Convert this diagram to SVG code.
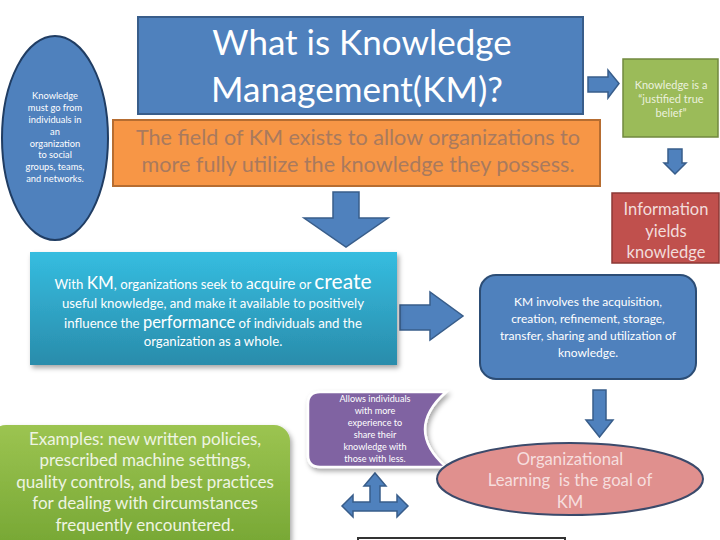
<svg xmlns="http://www.w3.org/2000/svg" width="720" height="540" viewBox="0 0 720 540">
<defs>
<style>
text{font-family:Lato,"Open Sans","Liberation Sans",sans-serif;text-anchor:middle}
.arrow{fill:#4f81bd;stroke:#385d8a;stroke-width:1.5}
.w{fill:#ffffff}
</style>
<linearGradient id="teal" x1="0" y1="0" x2="0" y2="1">
<stop offset="0" stop-color="#35bde0"/>
<stop offset="1" stop-color="#2a8cab"/>
</linearGradient>
<linearGradient id="grn" x1="0" y1="0" x2="0" y2="1">
<stop offset="0" stop-color="#9cc451"/>
<stop offset="1" stop-color="#74a532"/>
</linearGradient>
<filter id="sh" x="-10%" y="-10%" width="125%" height="130%">
<feDropShadow dx="2" dy="3" stdDeviation="2.5" flood-color="#000" flood-opacity="0.35"/>
</filter>
</defs>
<rect width="720" height="540" fill="#ffffff"/>

<g id="connectors">
<polygon class="arrow" points="333,192 359,192 359,218 388,218 346,247 304,218 333,218"/>
<polygon class="arrow" points="588,77 608,77 608,70 619,83.5 608,98 608,92 588,92"/>
<polygon class="arrow" points="668,149 682,149 682,163 686,163 675,174 664,163 668,163"/>
<polygon class="arrow" points="400,305 430,305 430,292 463,316 430,340 430,330 400,330"/>
<polygon class="arrow" points="593,390 606,390 606,420 613,420 599.5,437 586,420 593,420"/>
<polygon class="arrow" points="375,473 386,486 380,486 380,502 397,502 397,495 408,506 397,517 397,511 353,511 353,517 342,506 353,495 353,502 370,502 370,486 364,486"/>
</g>

<g id="title">
<rect x="138" y="17" width="445" height="97" fill="#4f81bd" stroke="#385d8a" stroke-width="2"/>
<text class="w" x="362" y="55" font-size="35">What is Knowledge</text>
<text class="w" x="357" y="102" font-size="35">Management(KM)?</text>
</g>

<g id="field">
<rect x="113" y="120" width="487" height="66" fill="#f79646" stroke="#b66d31" stroke-width="2"/>
<text x="358" y="145" font-size="21.6" fill="#a97a5e">The field of KM exists to allow organizations to</text>
<text x="358" y="172" font-size="21.6" fill="#a97a5e">more fully utilize the knowledge they possess.</text>
</g>

<g id="oval-left">
<ellipse cx="55" cy="138" rx="53" ry="102" fill="#4f81bd" stroke="#203d63" stroke-width="2"/>
<g class="w" font-size="9.3">
<text x="55" y="99">Knowledge</text>
<text x="55" y="111">must go from</text>
<text x="55" y="123">individuals in</text>
<text x="55" y="135">an</text>
<text x="55" y="147">organization</text>
<text x="55" y="158">to social</text>
<text x="55" y="170">groups, teams,</text>
<text x="55" y="182">and networks.</text>
</g>
</g>

<g id="justified">
<rect x="623" y="59" width="95" height="78" fill="#9bbb59" stroke="#71893f" stroke-width="1.5"/>
<g fill="#ebf1de" font-size="11">
<text x="671" y="89">Knowledge is a</text>
<text x="671" y="103">“justified true</text>
<text x="671" y="117">belief”</text>
</g>
</g>

<g id="information">
<rect x="612" y="193" width="107" height="70" fill="#c0504d" stroke="#8c3836" stroke-width="1.5"/>
<g fill="#f2dcdb" font-size="16.5">
<text x="666" y="215">Information</text>
<text x="666" y="237">yields</text>
<text x="666" y="258">knowledge</text>
</g>
</g>

<g id="with-km">
<rect x="30" y="252" width="367" height="113" fill="url(#teal)" filter="url(#sh)"/>
<g class="w" font-size="13.2">
<text x="213" y="289">With <tspan font-size="17">KM</tspan>, organizations seek to <tspan font-size="15.5">acquire</tspan> or <tspan font-size="21">create</tspan></text>
<text x="213" y="308">useful knowledge, and make it available to positively</text>
<text x="213" y="328">influence the <tspan font-size="16.5">performance</tspan> of individuals and the</text>
<text x="213" y="346">organization as a whole.</text>
</g>
</g>

<g id="km-involves">
<rect x="480" y="275" width="216" height="104" rx="16" fill="#4f81bd" stroke="#2c4d75" stroke-width="2"/>
<g class="w" font-size="12">
<text x="588" y="306">KM involves the acquisition,</text>
<text x="588" y="323">creation, refinement, storage,</text>
<text x="588" y="340">transfer, sharing and utilization of</text>
<text x="588" y="357">knowledge.</text>
</g>
</g>

<g id="allows">
<path d="M320,392 L446,392 Q404,429.5 446,467 L320,467 Q308,467 308,455 L308,404 Q308,392 320,392 Z" fill="#8064a2" stroke="#ffffff" stroke-width="2.5" filter="url(#sh)"/>
<g class="w" font-size="9.1">
<text x="375" y="402">Allows individuals</text>
<text x="375" y="414">with more</text>
<text x="375" y="426">experience to</text>
<text x="375" y="438">share their</text>
<text x="375" y="450">knowledge with</text>
<text x="375" y="462">those with less.</text>
</g>
</g>

<g id="org-learning">
<ellipse cx="570" cy="479" rx="133" ry="36" fill="#e0908e" stroke="#3b4a6b" stroke-width="2"/>
<g fill="#f6dede" font-size="16.7">
<text x="570" y="465">Organizational</text>
<text x="570" y="486" xml:space="preserve">Learning  is the goal of</text>
<text x="570" y="508">KM</text>
</g>
</g>

<g id="examples">
<rect x="-10" y="425" width="300" height="130" rx="16" fill="url(#grn)" filter="url(#sh)"/>
<g fill="#eef4e2" font-size="17">
<text x="145" y="445">Examples: new written policies,</text>
<text x="145" y="466">prescribed machine settings,</text>
<text x="145" y="488">quality controls, and best practices</text>
<text x="145" y="509">for dealing with circumstances</text>
<text x="145" y="531">frequently encountered.</text>
</g>
</g>

<g id="bottom-box">
<rect x="358" y="538" width="207" height="20" fill="#ffffff" stroke="#333333" stroke-width="2"/>
</g>
</svg>
